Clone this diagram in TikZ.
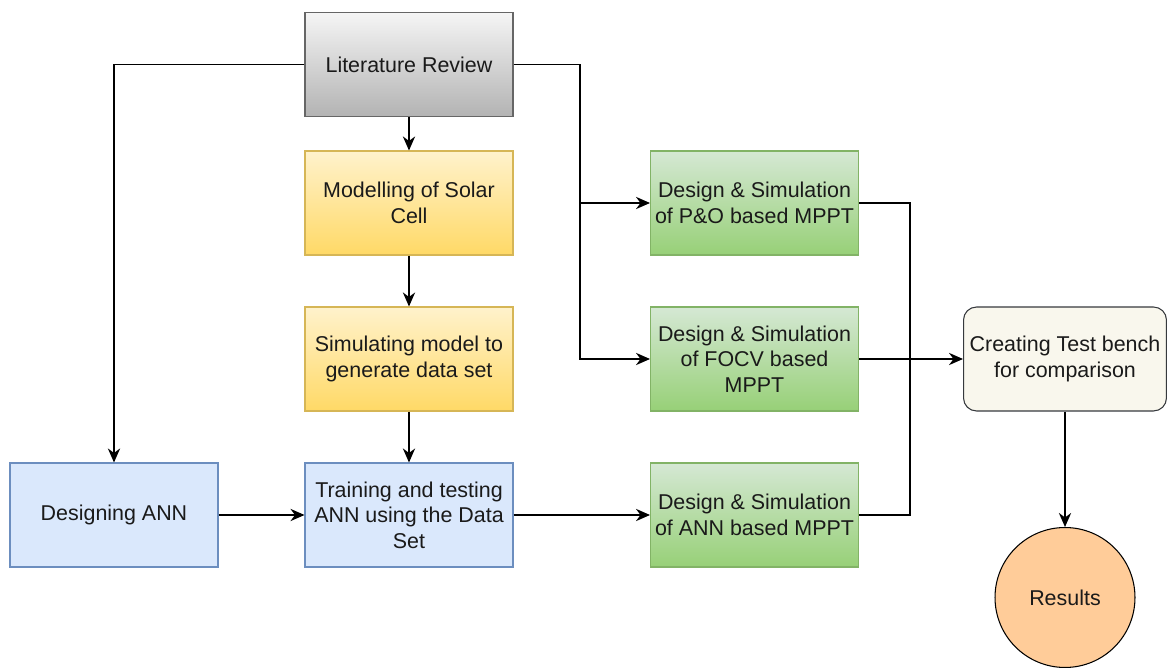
\documentclass[tikz,border=0pt]{standalone}
\usepackage{fontspec}
\setmainfont{Liberation Sans}
\usetikzlibrary{arrows.meta,shapes.geometric}
\definecolor{grayTop}{HTML}{F5F5F5}
\definecolor{grayBot}{HTML}{B3B3B3}
\definecolor{grayLine}{HTML}{666666}
\definecolor{yelTop}{HTML}{FFF2CC}
\definecolor{yelBot}{HTML}{FFD966}
\definecolor{yelLine}{HTML}{D6B656}
\definecolor{bluFill}{HTML}{DAE8FC}
\definecolor{bluLine}{HTML}{6C8EBF}
\definecolor{grnTop}{HTML}{D5E8D4}
\definecolor{grnBot}{HTML}{97D077}
\definecolor{grnLine}{HTML}{82B366}
\definecolor{benchFill}{HTML}{F9F7ED}
\definecolor{benchLine}{HTML}{36393D}
\definecolor{resFill}{HTML}{FFCC99}
\definecolor{txt}{HTML}{1A1A1A}
\tikzset{
  box/.style={draw, rectangle, minimum width=4.16cm, minimum height=2.08cm,
    align=center, inner sep=2pt, line width=0.6pt, text=txt,
    font=\fontsize{12.2}{14.5}\selectfont},
  litbox/.style={box, draw=grayLine, top color=grayTop, bottom color=grayBot},
  yelbox/.style={box, draw=yelLine, top color=yelTop, bottom color=yelBot},
  blubox/.style={box, draw=bluLine, fill=bluFill},
  grnbox/.style={box, draw=grnLine, top color=grnTop, bottom color=grnBot},
  benchbox/.style={box, draw=benchLine, fill=benchFill, rounded corners=0.26cm, minimum width=4.06cm},
  resnode/.style={draw=black, circle, fill=resFill, minimum size=2.8cm, inner sep=0pt,
    line width=0.6pt, text=txt, font=\fontsize{12.2}{14.5}\selectfont},
  conn/.style={line width=0.7pt, draw=black},
  arr/.style={conn, -{Stealth[length=8pt,width=7pt]}}
}
\begin{document}
\begin{tikzpicture}[x=0.02cm,y=-0.02cm]
\useasboundingbox (0,0) rectangle (1167,668);
\node[litbox] (lit) at (409,64.5) {Literature Review};
\node[yelbox] (model) at (409,203) {Modelling of Solar\\Cell};
\node[yelbox] (sim) at (409,359) {Simulating model to\\generate data set};
\node[blubox] (train) at (409,515) {Training and testing\\ANN using the Data\\Set};
\node[blubox] (dann) at (114,515) {Designing ANN};
\node[grnbox] (po) at (754.5,203) {Design \& Simulation\\of P\&O based MPPT};
\node[grnbox] (focv) at (754.5,359) {Design \& Simulation\\of FOCV based\\MPPT};
\node[grnbox] (annm) at (754.5,515) {Design \& Simulation\\of ANN based MPPT};
\node[benchbox] (bench) at (1065,359) {Creating Test bench\\for comparison};
\node[resnode] (res) at (1065,597.5) {Results};
\coordinate (j1) at (580,203);
\coordinate (j2) at (910,359);
\draw[arr] (lit.west) -| (dann.north);
\draw[arr] (lit.south) -- (model.north);
\draw[arr] (model.south) -- (sim.north);
\draw[arr] (sim.south) -- (train.north);
\draw[arr] (dann.east) -- (train.west);
\draw[arr] (train.east) -- (annm.west);
\draw[arr] (lit.east) -| (j1) -- (po.west);
\draw[arr] (j1) |- (focv.west);
\draw[conn] (po.east) -| (j2);
\draw[conn] (annm.east) -| (j2);
\draw[arr] (focv.east) -- (bench.west);
\draw[arr] (bench.south) -- (res.north);
\end{tikzpicture}
\end{document}
